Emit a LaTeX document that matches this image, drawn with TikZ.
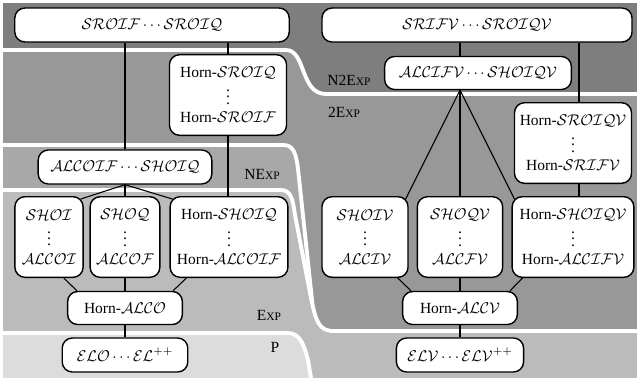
\documentclass[tikz,border=0pt]{standalone}
\usepackage{fontspec}
\setmainfont{Liberation Serif}
\usetikzlibrary{calc}

\definecolor{regNtwo}{HTML}{7E7E7E}
\definecolor{regTwo}{HTML}{989898}
\definecolor{regN}{HTML}{A8A8A8}
\definecolor{regE}{HTML}{BBBBBB}
\definecolor{regP}{HTML}{DCDCDC}

\newcommand{\scx}[1]{{\fontsize{7.4}{8}\selectfont #1}}

\pgfdeclarelayer{regions}
\pgfdeclarelayer{edges}
\pgfsetlayers{regions,edges,main}

\tikzset{
	basic/.style  = {draw, fill=white, rounded corners=6.5pt, line width=0.9pt,
		align=center, inner sep=2pt},
	logic/.style  = {basic, minimum height=21.9pt},
	family/.style = {basic, minimum height=52pt},
	cls/.style    = {inner sep=0pt},
	region/.style = {draw=white, line width=2.5pt},
	link/.style   = {draw, line width=0.7pt}
}

\begin{document}
\begin{tikzpicture}[x=0.645pt, y=-0.645pt]
\useasboundingbox (0,0) rectangle (637,380);

% complexity regions
\begin{pgfonlayer}{regions}
\begin{scope}
\clip (3,3) rectangle (637,377);
\fill[regNtwo] (0,0) rectangle (640,380);
\filldraw[region, fill=regTwo] (-5,50) -- (286,50) .. controls (306,50) and (300,94) .. (326,94)
	-- (645,94) -- (645,390) -- (-5,390) -- cycle;
\filldraw[region, fill=regN] (-5,145) -- (284,145) .. controls (296,145) and (297,160) .. (299,178)
	-- (312,300) -- (318,390) -- (-5,390) -- cycle;
\filldraw[region, fill=regE] (-5,190) -- (281,190) .. controls (292,190) and (293,202) .. (295,215)
	-- (311,298) .. controls (316,322) and (319,331) .. (334,331) -- (645,331) -- (645,390) -- (-5,390) -- cycle;
\filldraw[region, fill=regP] (-5,333) -- (288,333) .. controls (300,333) and (304,345) .. (308,360)
	-- (313,390) -- (-5,390) -- cycle;
\end{scope}
\end{pgfonlayer}

% class labels
\node[cls] (lNtwo) at (349,80) {N2E\scx{XP}};
\node[cls] (lTwo) at (344,112) {2E\scx{XP}};
\node[cls] (lN) at (262,174) {NE\scx{XP}};
\node[cls] (lE) at (269,315) {E\scx{XP}};
\node[cls] (lP) at (275,347) {P};

% logics without role constraints
\node[logic, minimum width=177pt] (sroif) at (152,25) {$\mathcal{SROIF}\cdots\mathcal{SROIQ}$};
\node[family, minimum width=75.5pt] (hsroiq) at (228,95) {Horn-$\mathcal{SROIQ}$\\$\vdots$\\Horn-$\mathcal{SROIF}$};
\node[logic, minimum width=112pt] (alcoif) at (125,167) {$\mathcal{ALCOIF}\cdots\mathcal{SHOIQ}$};
\node[family, minimum width=44pt] (shoi) at (49,237) {$\mathcal{SHOI}$\\$\vdots$\\$\mathcal{ALCOI}$};
\node[family, minimum width=45pt] (shoq) at (125,237) {$\mathcal{SHOQ}$\\$\vdots$\\$\mathcal{ALCOF}$};
\node[family, minimum width=76pt] (hshoiq) at (229,237) {Horn-$\mathcal{SHOIQ}$\\$\vdots$\\Horn-$\mathcal{ALCOIF}$};
\node[logic, minimum width=74pt, minimum height=21.3pt] (halco) at (125,308) {Horn-$\mathcal{ALCO}$};
\node[logic, minimum width=81pt] (elo) at (125,355) {$\mathcal{ELO}\cdots\mathcal{EL}^{++}$};

% logics with the V
\node[logic, minimum width=200pt] (srifv) at (477,25) {$\mathcal{SRIFV}\cdots\mathcal{SROIQV}$};
\node[logic, minimum width=120.5pt, minimum height=21.3pt] (alcifv) at (478,73) {$\mathcal{ALCIFV}\cdots\mathcal{SHOIQV}$};
\node[family, minimum width=75.5pt] (hsroiqv) at (573,143) {Horn-$\mathcal{SROIQV}$\\$\vdots$\\Horn-$\mathcal{SRIFV}$};
\node[family, minimum width=55.5pt] (shoiv) at (365,237) {$\mathcal{SHOIV}$\\$\vdots$\\$\mathcal{ALCIV}$};
\node[family, minimum width=55pt] (shoqv) at (460,237) {$\mathcal{SHOQV}$\\$\vdots$\\$\mathcal{ALCFV}$};
\node[family, minimum width=78.5pt] (hshoiqv) at (573,237) {Horn-$\mathcal{SHOIQV}$\\$\vdots$\\Horn-$\mathcal{ALCIFV}$};
\node[logic, minimum width=74pt, minimum height=21.3pt] (halcv) at (460,308) {Horn-$\mathcal{ALCV}$};
\node[logic, minimum width=82pt] (elv) at (460,355) {$\mathcal{ELV}\cdots\mathcal{ELV}^{++}$};

\coordinate (fan) at (shoqv.north |- alcifv.south);
\coordinate (rv) at ($(hsroiqv.north)+(6,0)$);
\coordinate (rvb) at ($(hsroiqv.south)+(6,0)$);

% connectors
\begin{pgfonlayer}{edges}
\draw[link] (alcoif.north) -- (alcoif.north |- sroif.south);
\draw[link] (hsroiq.north) -- (hsroiq.north |- sroif.south);
\draw[link] (hsroiq.south) -- (hsroiq.south |- hshoiq.north);
\draw[link] (alcoif.south) -- ($(shoi.north east)+(-3,3)$);
\draw[link] (alcoif.south) -- (shoq.north);
\draw[link] (alcoif.south) -- ($(hshoiq.north west)+(3,3)$);
\draw[link] ($(shoi.south east)+(-20,0)$) -- ($(halco.north west)+(10,0)$);
\draw[link] (shoq.south) -- (halco.north);
\draw[link] ($(hshoiq.south west)+(17,0)$) -- ($(halco.north east)+(-10,0)$);
\draw[link] (halco.south) -- (elo.north);

\draw[link] (fan |- srifv.south) -- (fan |- alcifv.north);
\draw[link] (rv) -- (rv |- srifv.south);
\draw[link] (rvb) -- (rvb |- hshoiqv.north);
\draw[link] (fan) -- ($(shoiv.north east)+(-3,3)$);
\draw[link] (fan) -- (shoqv.north);
\draw[link] (fan) -- ($(hshoiqv.north west)+(3,3)$);
\draw[link] ($(shoiv.south east)+(-11,0)$) -- ($(halcv.north west)+(9,0)$);
\draw[link] (shoqv.south) -- (halcv.north);
\draw[link] ($(hshoiqv.south west)+(11,0)$) -- ($(halcv.north east)+(-8,0)$);
\draw[link] (halcv.south) -- (elv.north);
\end{pgfonlayer}

\end{tikzpicture}
\end{document}
